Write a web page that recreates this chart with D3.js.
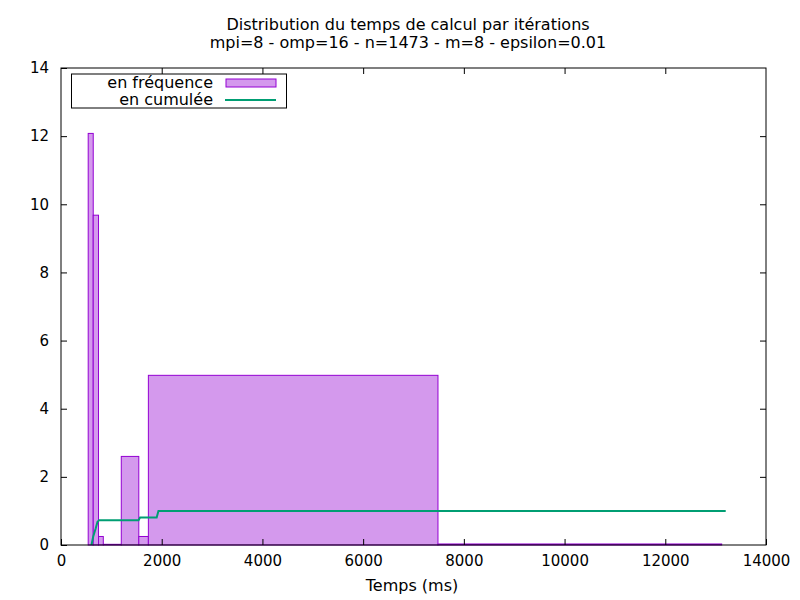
<!DOCTYPE html>
<html>
<head>
<meta charset="utf-8">
<script src="https://cdn.jsdelivr.net/npm/d3@7"></script>
<style>
  body { margin: 0; background: #fff; }
  text { font-family: "DejaVu Sans", sans-serif; fill: #000; }
</style>
</head>
<body>
<svg id="chart" width="800" height="600"></svg>
<script>
// ---- data ----
var binEdges = [540, 640, 745, 840, 1197, 1545, 1735, 7486, 13120];
var binHeights = [12.08, 9.68, 0.25, 0.02, 2.6, 0.25, 4.98, 0.03];

var cumX = [605, 640, 690, 725, 760, 1540, 1570, 1900, 1935, 13200];
var cumY = [0, 0.25, 0.49, 0.68, 0.73, 0.73, 0.81, 0.81, 1.0, 1.0];

var xTicks = [0, 2000, 4000, 6000, 8000, 10000, 12000, 14000];
var yTicks = [0, 2, 4, 6, 8, 10, 12, 14];

var titleLines = ["Distribution du temps de calcul par itérations",
                  "mpi=8 - omp=16 - n=1473 - m=8 - epsilon=0.01"];
var legendNames = ["en fréquence", "en cumulée"];

// ---- layout ----
var pLeft = 61, pRight = 766, pTop = 68, pBottom = 545;
var tickFont = 15, textFont = 16;

var svg = d3.select("#chart");

var x = d3.scaleLinear().domain([0, 14000]).range([pLeft, pRight]);
var y = d3.scaleLinear().domain([0, 14]).range([pBottom, pTop]);

var bins = binHeights.map(function(h, i) {
    return {x0: binEdges[i], x1: binEdges[i + 1], h: h};
});

// bars
svg.append("g").selectAll("rect")
    .data(bins)
    .enter().append("rect")
    .attr("x", function(d) { return x(d.x0); })
    .attr("y", function(d) { return y(d.h); })
    .attr("width", function(d) { return x(d.x1) - x(d.x0); })
    .attr("height", function(d) { return y(0) - y(d.h); })
    .style("fill", "#d499ed")
    .style("stroke", "#9400d3")
    .style("stroke-width", 1);

// cumulative line
var cum = cumX.map(function(v, i) { return [v, cumY[i]]; });
var line = d3.line()
    .x(function(d) { return x(d[0]); })
    .y(function(d) { return y(d[1]); });

svg.append("path")
    .datum(cum)
    .attr("d", line)
    .style("fill", "none")
    .style("stroke", "#009e73")
    .style("stroke-width", 2);

// axes (gnuplot style: ticks inward, mirrored)
var tickLen = 6;
var xAxis = d3.axisBottom(x).tickValues(xTicks).tickSize(-tickLen).tickPadding(10).tickFormat(d3.format("d"));
var xAxisTop = d3.axisTop(x).tickValues(xTicks.slice(1, -1)).tickSize(-tickLen).tickFormat("");
var yAxis = d3.axisLeft(y).tickValues(yTicks).tickSize(-tickLen).tickPadding(12).tickFormat(d3.format("d"));
var yAxisRight = d3.axisRight(y).tickValues(yTicks.slice(1, -1)).tickSize(-tickLen).tickFormat("");

svg.append("g").attr("transform", "translate(0," + pBottom + ")").call(xAxis);
svg.append("g").attr("transform", "translate(0," + pTop + ")").call(xAxisTop);
svg.append("g").attr("transform", "translate(" + pLeft + ",0)").call(yAxis);
svg.append("g").attr("transform", "translate(" + pRight + ",0)").call(yAxisRight);

svg.selectAll(".domain").remove();
svg.selectAll(".tick line").style("stroke", "#000");
svg.selectAll(".tick text").style("font-size", tickFont + "px").style("font-family", "DejaVu Sans");

// frame
svg.append("rect")
    .attr("x", pLeft).attr("y", pTop)
    .attr("width", pRight - pLeft).attr("height", pBottom - pTop)
    .style("fill", "none").style("stroke", "#000").style("stroke-width", 1);

// titles
svg.selectAll(".title")
    .data(titleLines)
    .enter().append("text")
    .attr("class", "title")
    .attr("x", 408)
    .attr("y", function(d, i) { return 30 + i * 18; })
    .attr("text-anchor", "middle")
    .style("font-size", textFont + "px")
    .text(function(d) { return d; });

svg.append("text")
    .attr("x", 412).attr("y", 591)
    .attr("text-anchor", "middle")
    .style("font-size", textFont + "px")
    .text("Temps (ms)");

// legend
var lg = svg.append("g");
lg.append("rect")
    .attr("x", 71.5).attr("y", 74)
    .attr("width", 215).attr("height", 34)
    .style("fill", "#fff").style("stroke", "#000").style("stroke-width", 1);

lg.selectAll(".lt")
    .data(legendNames)
    .enter().append("text")
    .attr("class", "lt")
    .attr("x", 213)
    .attr("y", function(d, i) { return 88 + i * 17; })
    .attr("text-anchor", "end")
    .style("font-size", textFont + "px")
    .text(function(d) { return d; });

lg.append("rect")
    .attr("x", 226).attr("y", 79)
    .attr("width", 50).attr("height", 8)
    .style("fill", "#d499ed").style("stroke", "#9400d3").style("stroke-width", 1);

lg.append("line")
    .attr("x1", 225).attr("x2", 276)
    .attr("y1", 100).attr("y2", 100)
    .style("stroke", "#009e73").style("stroke-width", 2);
</script>
</body>
</html>
